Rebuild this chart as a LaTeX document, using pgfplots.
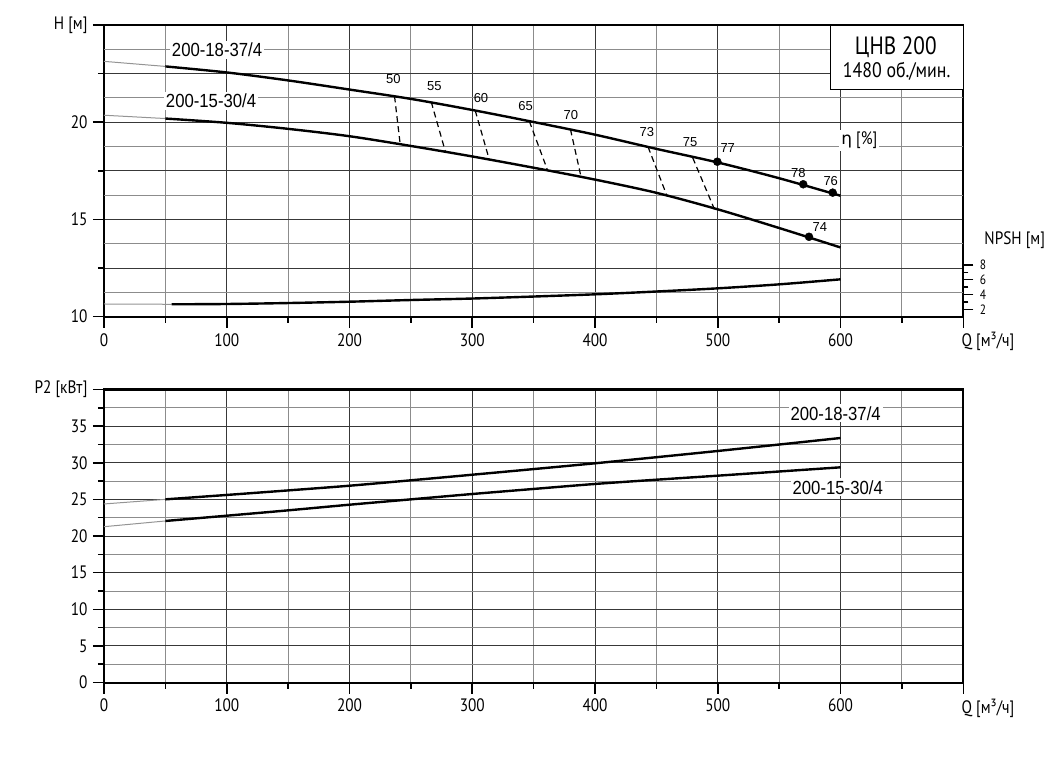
\documentclass[border=0pt]{standalone}
\usepackage{fontspec}
\setmainfont{PT Sans}[FakeStretch=0.85]
\newfontfamily\lib{Liberation Sans}[FakeStretch=0.88]
\newfontfamily\libn{Liberation Sans}
\newfontfamily\dej{DejaVu Sans}
\usepackage{pgfplots}
\pgfplotsset{compat=1.18}
\pgfplotsset{
 pumpaxis/.style={
  scale only axis, width=859.3pt,
  anchor=south west,
  xmin=0, xmax=700,
  axis line style={line width=2.2pt},
  tick align=outside, tick pos=left,
  major tick length=11pt, minor tick length=6pt,
  tick style={line width=1.6pt, black},
  xtick={0,100,...,700}, xticklabels={0,100,200,300,400,500,600,},
  minor xtick={50,150,...,650},
  grid=both,
  major grid style={line width=1pt, black!78},
  minor x grid style={line width=0.9pt, black!45},
  ticklabel style={font=\fontsize{18}{18}\selectfont},
  xticklabel style={yshift=-2pt},
  yticklabel style={xshift=-2pt},
  /pgf/number format/assume math mode=true,
  clip=false,
 },
}
\tikzset{
 curve/.style={black, line width=2.4pt, smooth},
 ext/.style={black!42, line width=1pt},
 effl/.style={black, line width=1.2pt, dash pattern=on 6pt off 4pt},
 effn/.style={font=\libn\fontsize{13}{13}\selectfont},
 clab/.style={fill=white, inner sep=2pt, font=\lib\fontsize{19}{19}\selectfont},
}
\begin{document}
\begin{tikzpicture}
\useasboundingbox (0pt,0pt) rectangle (1057pt,758pt);
% ---------------- top: H(Q) ----------------
\begin{axis}[pumpaxis, height=291.7pt, at={(104pt,441.3pt)},
  ymin=10, ymax=25,
  ytick={10,15,20,25}, yticklabels={10,15,20,{H [м]}},
  minor ytick={12.5,17.5,22.5},
  minor y grid style={line width=1pt, black!78},
  extra y ticks={11.25,13.75,16.25,18.75,21.25,23.75},
  extra y tick labels={},
  extra y tick style={major tick length=0pt, major grid style={line width=0.9pt, black!45}},
]
\addplot[ext] coordinates {(0,23.13) (50,22.87)};
\addplot[curve] coordinates {(50,22.87) (100,22.56) (150,22.15) (200,21.68) (250,21.2) (300,20.63) (350,20.01) (400,19.36) (450,18.63) (500,17.93) (550,17.12) (600,16.22)};
\addplot[ext] coordinates {(0,20.36) (50,20.19)};
\addplot[curve] coordinates {(50,20.19) (100,19.97) (150,19.66) (200,19.28) (250,18.78) (300,18.24) (350,17.66) (400,17.05) (450,16.37) (500,15.52) (550,14.56) (600,13.56)};
% efficiency iso-lines
\addplot[effl] coordinates {(236.7,21.33) (241.3,18.86)};
\addplot[effl] coordinates {(266.6,21.04) (278.0,18.51)};
\addplot[effl] coordinates {(302.4,20.60) (314.0,18.05)};
\addplot[effl] coordinates {(346.5,20.05) (361.4,17.52)};
\addplot[effl] coordinates {(380.0,19.63) (388.6,17.19)};
\addplot[effl] coordinates {(443.2,18.73) (458.7,16.20)};
\addplot[effl] coordinates {(479.6,18.17) (497.3,15.52)};
\addplot[only marks, mark=*, mark size=4pt, black] coordinates {(499.6,17.97) (569.6,16.81) (593.6,16.38) (574.3,14.11)};
\node[effn] at (axis cs:235.7,22.22) {50};
\node[effn] at (axis cs:269.1,21.86) {55};
\node[effn] at (axis cs:307.1,21.23) {60};
\node[effn] at (axis cs:343.5,20.83) {65};
\node[effn] at (axis cs:380.4,20.37) {70};
\node[effn] at (axis cs:442.3,19.50) {73};
\node[effn] at (axis cs:477.4,19.00) {75};
\node[effn] at (axis cs:508.1,18.66) {77};
\node[effn] at (axis cs:565.6,17.37) {78};
\node[effn] at (axis cs:592.0,16.98) {76};
\node[effn] at (axis cs:583.1,14.63) {74};
\node[clab] at (axis cs:92.1,23.71) {200-18-37/4};
\node[clab] at (axis cs:87.2,21.10) {200-15-30/4};
\node[fill=white, inner sep=2pt, font=\fontsize{18}{18}\selectfont] at (axis cs:615.3,19.08) {{\dej\fontsize{17}{17}\selectfont η} [\%]};
\draw[fill=white, line width=1.3pt] (axis cs:592,25) rectangle (axis cs:700,21.69);
\node[font=\fontsize{25}{25}\selectfont] at (axis cs:645,23.88) {ЦНВ 200};
\node[font=\fontsize{21}{21}\selectfont] at (axis cs:645.7,22.60) {1480 об./мин.};
\end{axis}
% ---------------- NPSH ----------------
\begin{axis}[scale only axis, width=859.3pt, height=291.7pt, at={(104pt,441.3pt)}, anchor=south west,
  xmin=0, xmax=700, ymin=1, ymax=40.5,
  axis x line=none, axis y line*=right,
  y axis line style={draw=none},
  ytick={2,4,6,8}, yticklabels={2,4,6,8}, minor ytick={3,5,7},
  tick align=outside, major tick length=10pt, minor tick length=5pt,
  tick style={line width=1.4pt, black},
  yticklabel style={font=\fontsize{13.5}{13.5}\selectfont, xshift=3pt},
  clip=false,
]
\addplot[ext] coordinates {(0,2.72) (55,2.68)};
\addplot[curve] coordinates {(55,2.68) (100,2.72) (150,2.85) (200,3.03) (250,3.26) (300,3.46) (350,3.73) (400,4.03) (450,4.41) (500,4.84) (550,5.38) (600,6.06)};
\end{axis}
% ---------------- bottom: P2(Q) ----------------
\begin{axis}[pumpaxis, height=293.2pt, at={(104pt,75.4pt)},
  ymin=0, ymax=40,
  ytick={0,5,...,40}, yticklabels={0,5,10,15,20,25,30,35,{P2 [кВт]}},
  minor ytick={2.5,7.5,...,37.5},
  minor y grid style={line width=0.9pt, black!45},
]
\addplot[ext] coordinates {(0,24.37) (50,25.0)};
\addplot[curve] coordinates {(50,25.0) (100,25.6) (150,26.22) (200,26.86) (250,27.6) (300,28.36) (350,29.13) (400,29.92) (450,30.75) (500,31.6) (550,32.48) (600,33.37)};
\addplot[ext] coordinates {(0,21.27) (50,22.05)};
\addplot[curve] coordinates {(50,22.05) (100,22.77) (150,23.5) (200,24.27) (250,25.0) (300,25.73) (350,26.42) (400,27.1) (450,27.68) (500,28.23) (550,28.8) (600,29.37)};
\node[clab] at (axis cs:596,36.74) {200-18-37/4};
\node[clab] at (axis cs:597.7,26.64) {200-15-30/4};
\end{axis}
\node[font=\fontsize{18}{18}\selectfont] at (988pt,417pt) {Q [м³/ч]};
\node[font=\fontsize{18}{18}\selectfont] at (988pt,49.7pt) {Q [м³/ч]};
\node[font=\fontsize{18}{18}\selectfont] at (1014.7pt,518pt) {NPSH [м]};
\end{tikzpicture}
\end{document}
